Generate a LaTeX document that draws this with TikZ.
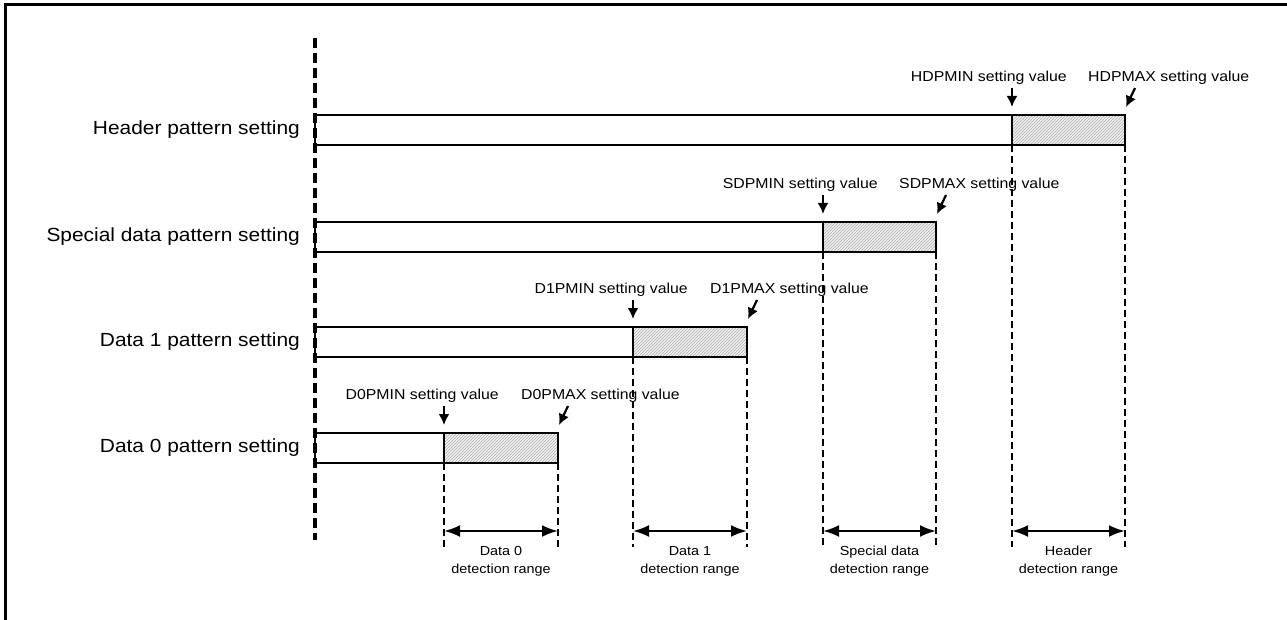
\documentclass[tikz,border=0pt]{standalone}
\usepackage{fontspec}
\setmainfont{Liberation Sans}[FakeStretch=1.1]
\usetikzlibrary{arrows.meta,patterns}

\tikzset{
  bar/.style={draw, line width=2.4pt},
  hatchbar/.style={draw, line width=2.4pt, preaction={fill=gray!10},
    pattern=north east lines, pattern color=gray!65},
  guide/.style={line width=2.4pt, dash pattern=on 7pt off 4pt},
  zeroline/.style={line width=3.2pt, dash pattern=on 10pt off 5pt},
  pointer/.style={line width=2.2pt, -{Latex[length=11pt,width=11pt]}},
  rngarrow/.style={line width=2.4pt, {Latex[length=16pt,width=12pt]}-{Latex[length=16pt,width=12pt]}},
  rowlabel/.style={anchor=east, inner sep=0pt, font=\fontsize{19}{23}\selectfont},
  vallabel/.style={inner sep=0pt, font=\fontsize{14.4}{17}\selectfont},
  rnglabel/.style={inner sep=0pt, align=center, font=\fontsize{13.1}{18}\selectfont}
}

\begin{document}
\begin{tikzpicture}[x=1pt, y=-1pt]
  \useasboundingbox (0,0) rectangle (1287,620);
  % frame (top and left edges only)
  \draw[line width=3.5pt] (5.5,620) -- (5.5,4.5) -- (1287,4.5);

  % zero line
  \coordinate (zerotop) at (315,38);
  \coordinate (zerobot) at (315,540);
  \draw[zeroline] (zerotop) -- (zerobot);

  \foreach \id/\txt/\rng/\pre/\yt/\xmin/\xmax in {
      hd/Header pattern setting/Header/HDP/115/1012/1125,
      sd/Special data pattern setting/Special data/SDP/222/823/936,
      da/Data 1 pattern setting/Data 1/D1P/327/633/747,
      db/Data 0 pattern setting/Data 0/D0P/433/444/558}
  {
      \coordinate (\id-tl) at (315,\yt);
      \coordinate (\id-min) at (\xmin,\yt);
      \coordinate (\id-max) at (\xmax,\yt);
      \coordinate (\id-minb) at (\xmin,\yt+30);
      \coordinate (\id-maxb) at (\xmax,\yt+30);
      \coordinate (\id-minend) at (\xmin,547);
      \coordinate (\id-maxend) at (\xmax,547);
      \coordinate (\id-rl) at (\xmin,531);
      \coordinate (\id-rr) at (\xmax,531);

      \draw[bar] (\id-tl) rectangle (\id-minb);
      \draw[hatchbar] (\id-min) rectangle (\id-maxb);
      \node[rowlabel] (\id-lbl) at (300,\yt+15) {\txt};

      \node[vallabel, anchor=east] (\id-minlbl) at (\xmin+55,\yt-37) {\pre MIN setting value};
      \node[vallabel, anchor=west] (\id-maxlbl) at (\xmax-37,\yt-37) {\pre MAX setting value};
      \draw[pointer] ([yshift=27pt]\id-min) -- ([yshift=8pt]\id-min);
      \draw[pointer] ([shift={(10pt,27pt)}]\id-max) -- ([shift={(1pt,8pt)}]\id-max);

      \draw[guide] (\id-minb) -- (\id-minend);
      \draw[guide] (\id-maxb) -- (\id-maxend);
      \draw[rngarrow] (\id-rl) -- (\id-rr);
      \node[rnglabel] (\id-rng) at ({(\xmin+\xmax)/2},561) {\rng\\detection range};
  }
\end{tikzpicture}
\end{document}
